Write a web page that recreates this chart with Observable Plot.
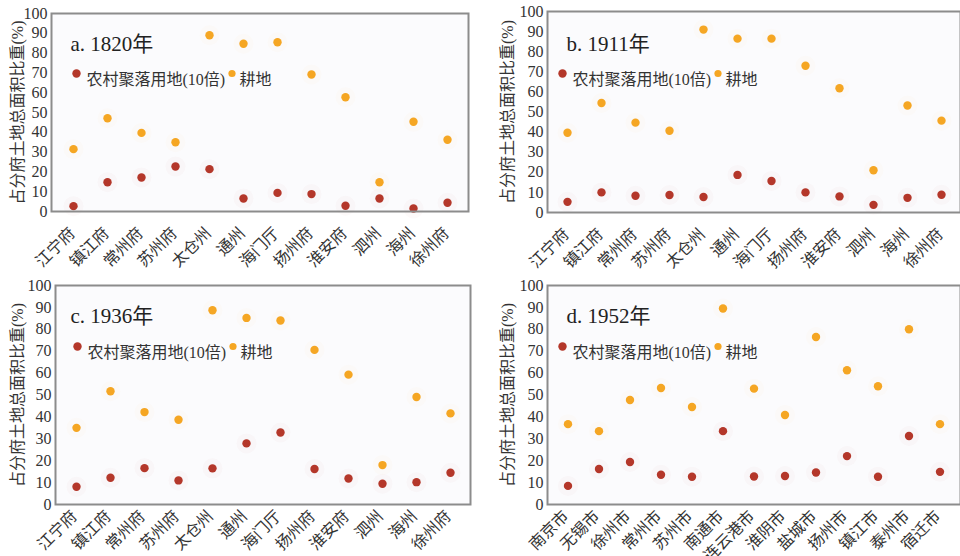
<!DOCTYPE html>
<html>
<head>
<meta charset="utf-8">
<script src="https://cdn.jsdelivr.net/npm/d3@7"></script>
<script src="https://cdn.jsdelivr.net/npm/@observablehq/plot@0.6"></script>
<style>
  html, body { margin: 0; padding: 0; background: #fff; }
  #wrap { position: relative; width: 960px; height: 556px; overflow: hidden; }
  #wrap svg { position: absolute; overflow: visible; }
</style>
</head>
<body>
<div id="wrap"></div>
<script>
// ---- data ----
const fuNames = ["江宁府","镇江府","常州府","苏州府","太仓州","通州","海门厅","扬州府","淮安府","泗州","海州","徐州府"];
const cityNames1952 = ["南京市","无锡市","徐州市","常州市","苏州市","南通市","连云港市","淮阴市","盐城市","扬州市","镇江市","泰州市","宿迁市"];

const settle1820 = [2.7, 14.8, 17.2, 22.7, 21.4, 6.6, 9.4, 8.8, 2.9, 6.6, 1.5, 4.4];
const crop1820   = [31.5, 47.1, 39.7, 35.0, 89.0, 84.7, 85.5, 69.2, 57.7, 14.8, 45.3, 36.2];

const settle1911 = [5.3, 10.0, 8.3, 8.7, 7.7, 18.7, 15.7, 10.0, 8.0, 3.8, 7.3, 8.8];
const crop1911   = [39.7, 54.5, 44.7, 40.7, 91.0, 86.5, 86.5, 73.0, 61.8, 21.0, 53.2, 45.7];

const settle1936 = [8.1, 12.2, 16.6, 11.0, 16.5, 27.9, 32.9, 16.2, 11.9, 9.5, 10.2, 14.5];
const crop1936   = [35.0, 51.7, 42.2, 38.7, 88.7, 85.2, 84.0, 70.6, 59.3, 18.0, 49.1, 41.6];

const settle1952 = [8.5, 16.2, 19.4, 13.6, 12.7, 33.5, 12.8, 13.0, 14.6, 22.1, 12.7, 31.3, 14.9];
const crop1952   = [36.7, 33.5, 47.7, 53.2, 44.5, 89.5, 52.9, 40.9, 76.5, 61.3, 54.0, 80.0, 36.7];

const panelTitles = ["a. 1820年", "b. 1911年", "c. 1936年", "d. 1952年"];
const seriesNames = ["农村聚落用地(10倍)", "耕地"];
const yTicks = [0, 10, 20, 30, 40, 50, 60, 70, 80, 90, 100];
const yLabel = "占分府土地总面积比重(%)";

// ---- drawing ----
const RED = "#b4372a", ORANGE = "#f5a623";
const FONT = '"Liberation Serif","Noto Sans CJK SC",serif';

function panel(o) {
  const rows = [];
  o.cats.forEach((c, i) => {
    rows.push({cat: c, v: o.settle[i], s: 0});
    rows.push({cat: c, v: o.crop[i], s: 1});
  });
  const svg = Plot.plot({
    width: o.w, height: o.h,
    marginLeft: o.ml, marginRight: o.mr, marginTop: o.mt, marginBottom: o.mb,
    style: {fontFamily: FONT, fontSize: "16px", color: "#333", background: "transparent"},
    x: {type: "band", domain: o.cats, padding: 0},
    y: {domain: [0, 100]},
    color: {domain: [0, 1], range: [RED, ORANGE]},
    marks: [
      Plot.frame({fill: "#fbfbfd", stroke: "none"}),
      Plot.dot(rows, {x: "cat", y: "v", r: 10, fill: d => d.s, fillOpacity: 0.025}),
      Plot.dot(rows, {x: "cat", y: "v", r: 4.2, fill: d => d.s}),
      Plot.frame({stroke: "#8c8c8c", strokeWidth: 2}),
      Plot.axisY({ticks: yTicks, tickSize: 0, tickPadding: 4, label: null, fontSize: 16, fill: "#333"}),
      Plot.axisX({tickRotate: -45, tickSize: 0, tickPadding: o.xpad, dx: o.xdx, label: null, fontSize: 16, fill: "#333"}),
      Plot.text([yLabel], {frameAnchor: "left", textAnchor: "middle", text: d => d, rotate: -90, dx: o.ldx, fontSize: 16, fill: "#333"}),
      Plot.text([o.title], {frameAnchor: "top-left", text: d => d, textAnchor: "start", dx: o.tx, dy: o.ty, fontSize: 21, fill: "#222"}),
      Plot.dot([0], {frameAnchor: "top-left", dx: o.gx, dy: o.gy, r: 4.2, fill: RED}),
      Plot.text([seriesNames[0]], {frameAnchor: "top-left", text: d => d, textAnchor: "start", dx: o.gx + 10, dy: o.gy, fontSize: 16, fill: "#333"}),
      Plot.dot([0], {frameAnchor: "top-left", dx: o.gx + 155.5, dy: o.gy, r: 3.6, fill: ORANGE}),
      Plot.text([seriesNames[1]], {frameAnchor: "top-left", text: d => d, textAnchor: "start", dx: o.gx + 163, dy: o.gy, fontSize: 16, fill: "#333"})
    ]
  });
  svg.style.left = o.left + "px";
  svg.style.top = o.top + "px";
  document.getElementById("wrap").appendChild(svg);
}

panel({cats: fuNames, settle: settle1820, crop: crop1820, title: panelTitles[0],
  left: 0, top: 0, w: 480, h: 275, ml: 51, mr: 12, mt: 13, mb: 64,
  ldx: -34, tx: 19, ty: 23, gx: 25, gy: 60, xpad: 19, xdx: -1});
panel({cats: fuNames, settle: settle1911, crop: crop1911, title: panelTitles[1],
  left: 480, top: 0, w: 480, h: 275, ml: 67, mr: 0, mt: 11, mb: 63,
  ldx: -40, tx: 19, ty: 25, gx: 15, gy: 62, xpad: 19, xdx: -1});
panel({cats: fuNames, settle: settle1936, crop: crop1936, title: panelTitles[2],
  left: 0, top: 275, w: 480, h: 281, ml: 55, mr: 10, mt: 10, mb: 52,
  ldx: -38, tx: 15, ty: 23, gx: 22, gy: 61, xpad: 9, xdx: -2});
panel({cats: cityNames1952, settle: settle1952, crop: crop1952, title: panelTitles[3],
  left: 480, top: 275, w: 480, h: 281, ml: 67, mr: 0, mt: 10, mb: 52,
  ldx: -40, tx: 19, ty: 23, gx: 15, gy: 61, xpad: 9, xdx: -2});
</script>
</body>
</html>
